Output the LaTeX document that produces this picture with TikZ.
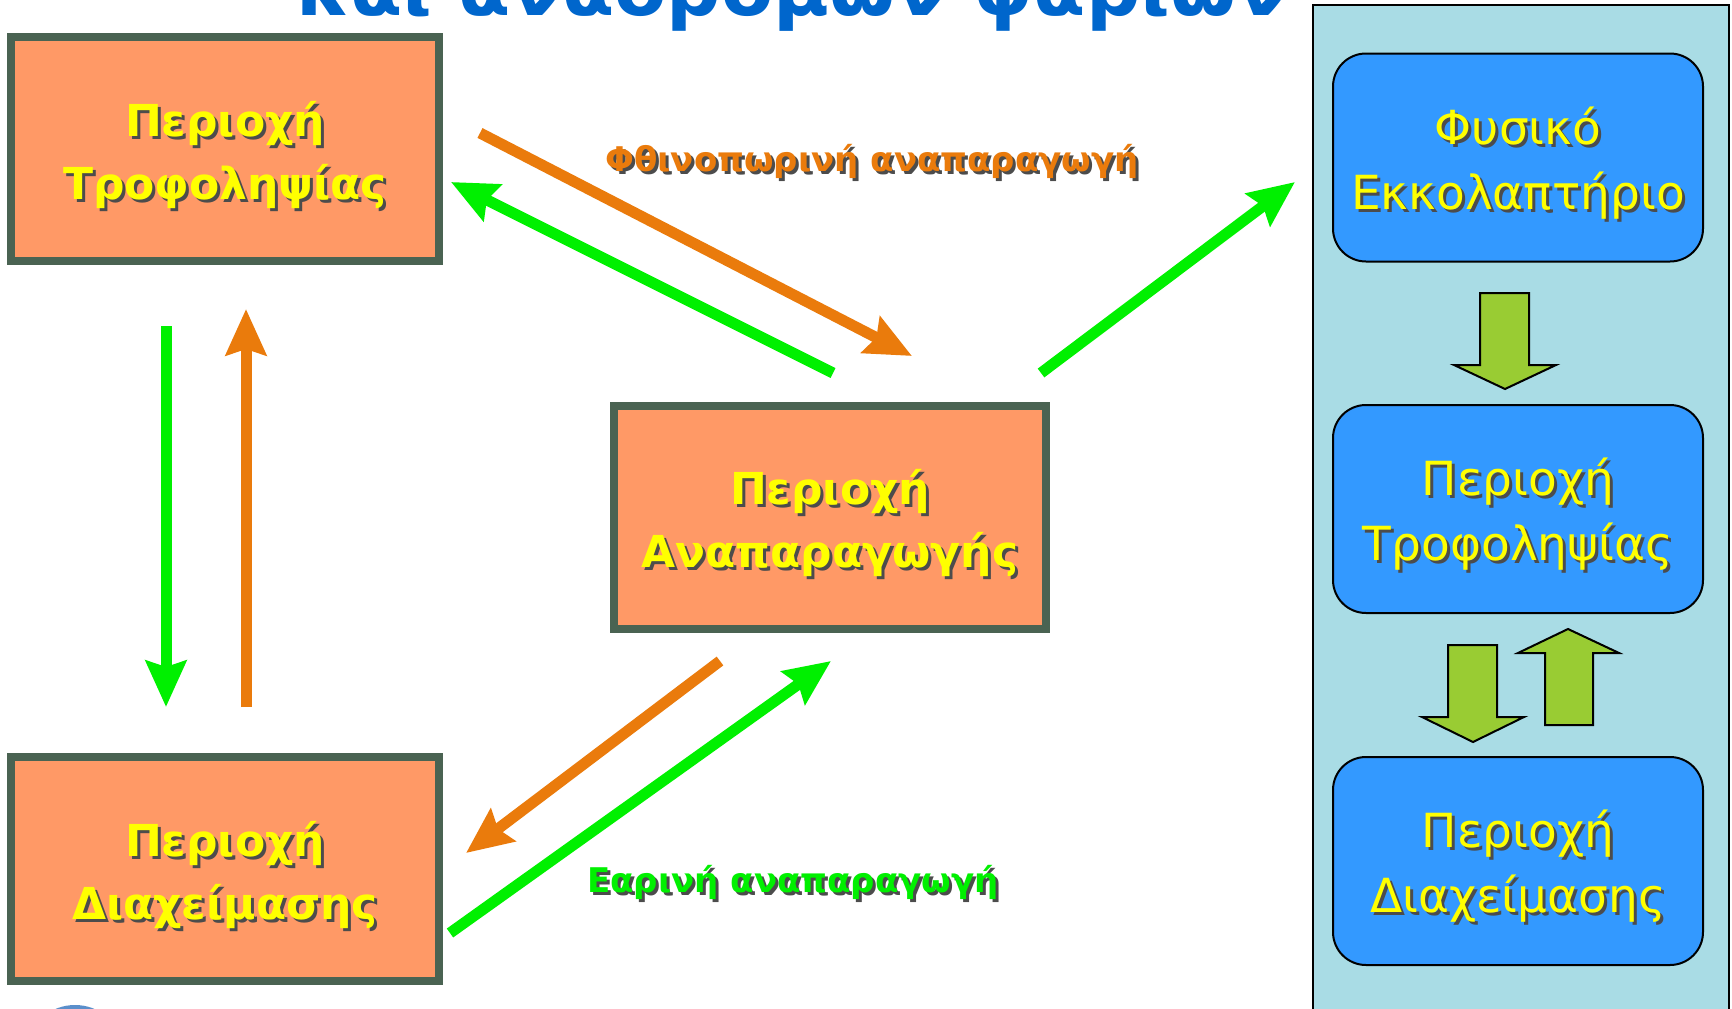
\documentclass[tikz,border=0pt]{standalone}
\usepackage{fontspec}
\setmainfont{DejaVu Sans}
\usetikzlibrary{arrows.meta}
\definecolor{orfill}{HTML}{FF9966}
\definecolor{orborder}{HTML}{4A6352}
\definecolor{arrgreen}{HTML}{00F000}
\definecolor{arrorange}{HTML}{EA7B0C}
\definecolor{panelbg}{HTML}{A9DCE5}
\definecolor{bluefill}{HTML}{3399FF}
\definecolor{blockgreen}{HTML}{99CC33}
\definecolor{titleblue}{HTML}{0066CC}
\definecolor{txtyellow}{HTML}{FFFF00}
\definecolor{logoblue}{HTML}{5B8FCB}
\newlength\shdoff
\setlength\shdoff{0pt}
\newcommand\shd[1]{\raisebox{-\shdoff}[\height][\depth]{\leavevmode\rlap{\kern3pt\raisebox{-3pt}{\color{black!70}#1}}#1}}
\tikzset{
  obox/.style={draw=orborder, line width=8pt, fill=orfill, inner sep=0pt,
    minimum width=428pt, minimum height=224pt, align=center, text=txtyellow,
    font=\fontsize{44}{63}\selectfont\bfseries\setlength\shdoff{7pt}},
  bbox/.style={draw=black, line width=2pt, fill=bluefill, rounded corners=33pt,
    inner sep=0pt, minimum width=370pt, minimum height=208pt, align=center,
    text=txtyellow, font=\fontsize{47}{65}\selectfont\setlength\shdoff{7pt}},
  flowg/.style={draw=arrgreen, line width=11pt, -{Stealth[length=46pt,width=40pt,inset=6pt]}},
  flowo/.style={draw=arrorange, line width=11pt, -{Stealth[length=46pt,width=40pt,inset=6pt]}},
  lbl/.style={anchor=base, font=\fontsize{34}{40}\selectfont\bfseries, inner sep=0pt},
  blockarr/.style={fill=blockgreen, draw=black, line width=2pt, line join=miter},
}
\begin{document}
\begin{tikzpicture}[x=1pt,y=-1pt]
\useasboundingbox (0,0) rectangle (1732,1009);
\clip (0,0) rectangle (1732,1009);
\fill[white] (0,0) rectangle (1732,1009);

% title (cut off at the top)
\node[anchor=base, inner sep=0pt, text=titleblue, font=\fontsize{76}{80}\selectfont\bfseries] (title) at (792,15) {και αναδρόμων ψαριών};

% right panel
\fill[panelbg] (1313,5) rectangle (1729,1020);
\draw[line width=2.5pt] (1313,1020) -- (1313,5) -- (1729,5) -- (1729,1020);

% logo fragment
\fill[logoblue] (75,1045) ellipse [x radius=45, y radius=40];

% orange boxes
\node[obox] (tro) at (225,149) {\shd{Περιοχή}\\\shd{Τροφοληψίας}};
\node[obox] (dia) at (225,869) {\shd{Περιοχή}\\\shd{Διαχείμασης}};
\node[obox, minimum width=432pt, minimum height=223pt] (ana) at (830,517.5) {\shd{Περιοχή}\\\shd{Αναπαραγωγής}};

% blue boxes
\node[bbox] (fys) at (1518,157.5) {\shd{Φυσικό}\\\shd{Εκκολαπτήριο}};
\node[bbox] (btro) at (1518,509) {\shd{Περιοχή}\\\shd{Τροφοληψίας}};
\node[bbox] (bdia) at (1518,861) {\shd{Περιοχή}\\\shd{Διαχείμασης}};

% block arrows
\draw[blockarr] (1480,293) -- (1529,293) -- (1529,365) -- (1556,365) -- (1505,389) -- (1454,365) -- (1480,365) -- cycle;
\draw[blockarr] (1448,645) -- (1497,645) -- (1497,717) -- (1524,717) -- (1473,742) -- (1422,717) -- (1448,717) -- cycle;
\draw[blockarr] (1545,725) -- (1593,725) -- (1593,653) -- (1619,653) -- (1568,629) -- (1518,653) -- (1545,653) -- cycle;

% arrow end points
\coordinate (o1s) at (480,133);  \coordinate (o1e) at (912,356);
\coordinate (g1s) at (833,373);  \coordinate (g1e) at (451,182);
\coordinate (g2s) at (1041,373); \coordinate (g2e) at (1295,182);
\coordinate (g3s) at (166,326);  \coordinate (g3e) at (166,707);
\coordinate (o2s) at (246,707);  \coordinate (o2e) at (246,309);
\coordinate (o3s) at (720,661);  \coordinate (o3e) at (466,853);
\coordinate (g4s) at (450,933);  \coordinate (g4e) at (831,661);

\draw[flowo] (o1s) -- (o1e);
\draw[flowg] (g1s) -- (g1e);
\draw[flowg] (g2s) -- (g2e);
\draw[flowg] (g3s) -- (g3e);
\draw[flowo] (o2s) -- (o2e);
\draw[flowo] (o3s) -- (o3e);
\draw[flowg] (g4s) -- (g4e);

% labels
\node[lbl, text=arrorange] (autumn) at (872,171) {\shd{Φθινοπωρινή αναπαραγωγή}};
\node[lbl, text=arrgreen] (spring) at (793,892) {\shd{Εαρινή αναπαραγωγή}};
\end{tikzpicture}
\end{document}
